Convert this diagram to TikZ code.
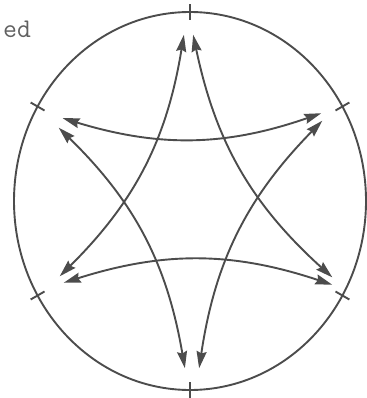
\documentclass[tikz,border=0pt]{standalone}
\usepackage{tikz}
\usetikzlibrary{calc}
\usetikzlibrary{arrows.meta}

\begin{document}
\begin{tikzpicture}[x=1pt,y=-1pt]
\tikzset{every edge/.style={draw,black!70,line width=1.9pt,{Stealth[length=17pt,width=10pt,inset=2pt]}-{Stealth[length=17pt,width=10pt,inset=2pt]}}}
\useasboundingbox (0,0) rectangle (366,398);
\node (label) at (3,38) [anchor=base west,inner sep=0,text=black!62,font=\ttfamily\fontsize{27}{27}\selectfont] {ed};
\draw [black!70,line width=1.9pt] (190,201) ellipse [x radius=176, y radius=189];
\foreach \a in {30,90,...,330}
  \draw [black!70,line width=1.9pt] ($(190,201)+(\a:168 and 181)$) -- ($(190,201)+(\a:184 and 197)$);

\node (t1) at (184,34) [inner sep=0] {};
\node (t2) at (193,34) [inner sep=0] {};
\node (tl1) at (62,118) [inner sep=0] {};
\node (tl2) at (58,127) [inner sep=0] {};
\node (tr1) at (322,113) [inner sep=0] {};
\node (tr2) at (323,120) [inner sep=0] {};
\node (bl1) at (59,277) [inner sep=0] {};
\node (bl2) at (63,283) [inner sep=0] {};
\node (br1) at (333,278) [inner sep=0] {};
\node (br2) at (333,285) [inner sep=0] {};
\node (b1) at (185,369) [inner sep=0] {};
\node (b2) at (199,369) [inner sep=0] {};

\path
(tl1) edge [bend right=18] (tr1)
(t1) edge [bend left=18] (bl1)
(t2) edge [bend right=18] (br1)
(tl2) edge [bend left=18] (b1)
(tr2) edge [bend right=18] (b2)
(bl2) edge [bend left=18] (br2);
\end{tikzpicture}
\end{document}
